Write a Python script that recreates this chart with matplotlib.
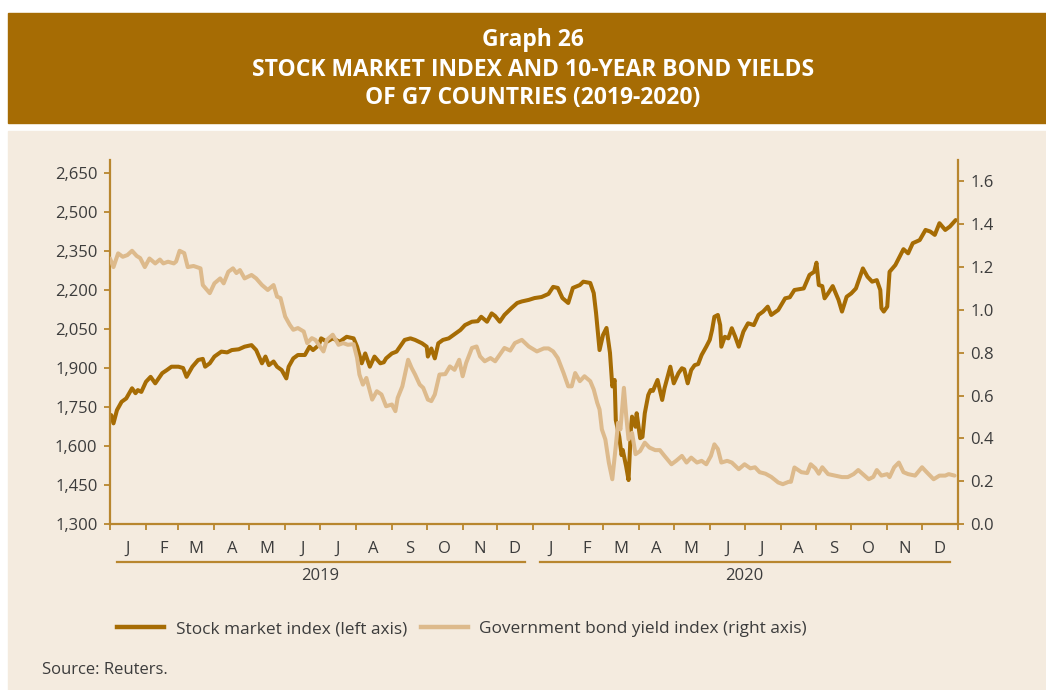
import matplotlib
matplotlib.use("Agg")
import matplotlib.pyplot as plt
import matplotlib.dates as mdates
import matplotlib.transforms as mtransforms
from matplotlib.patches import Rectangle
from matplotlib.lines import Line2D
import pandas as pd

plt.rcParams['font.family'] = ['Open Sans', 'DejaVu Sans']

# ---------------- data ----------------
stock_dates = [
    "2019-01-02", "2019-01-04", "2019-01-07", "2019-01-11", "2019-01-15", "2019-01-20",
    "2019-01-23", "2019-01-25", "2019-01-28", "2019-02-01", "2019-02-05", "2019-02-09",
    "2019-02-15", "2019-02-19", "2019-02-23", "2019-03-01", "2019-03-05", "2019-03-08",
    "2019-03-13", "2019-03-18", "2019-03-22", "2019-03-24", "2019-03-28", "2019-04-01",
    "2019-04-07", "2019-04-12", "2019-04-16", "2019-04-22", "2019-04-27", "2019-05-03",
    "2019-05-07", "2019-05-12", "2019-05-15", "2019-05-18", "2019-05-22", "2019-05-25",
    "2019-05-29", "2019-06-02", "2019-06-04", "2019-06-08", "2019-06-12", "2019-06-18",
    "2019-06-22", "2019-06-25", "2019-06-30", "2019-07-02", "2019-07-07", "2019-07-12",
    "2019-07-18", "2019-07-24", "2019-07-30", "2019-08-02", "2019-08-06", "2019-08-09",
    "2019-08-13", "2019-08-17", "2019-08-22", "2019-08-25", "2019-08-27", "2019-09-01",
    "2019-09-05", "2019-09-12", "2019-09-17", "2019-09-21", "2019-09-27", "2019-10-01",
    "2019-10-02", "2019-10-05", "2019-10-08", "2019-10-11", "2019-10-15", "2019-10-20",
    "2019-10-24", "2019-10-30", "2019-11-03", "2019-11-09", "2019-11-14", "2019-11-17",
    "2019-11-22", "2019-11-26", "2019-11-29", "2019-12-03", "2019-12-07", "2019-12-13",
    "2019-12-18", "2019-12-22", "2019-12-28",
    "2020-01-02", "2020-01-08", "2020-01-14", "2020-01-18", "2020-01-22", "2020-01-26",
    "2020-01-31", "2020-02-04", "2020-02-10", "2020-02-13", "2020-02-19", "2020-02-22",
    "2020-02-24", "2020-02-27", "2020-03-01", "2020-03-04", "2020-03-07", "2020-03-09",
    "2020-03-11", "2020-03-12", "2020-03-15", "2020-03-17", "2020-03-18", "2020-03-21",
    "2020-03-23", "2020-03-25", "2020-03-26", "2020-03-29", "2020-03-30", "2020-04-02",
    "2020-04-04", "2020-04-06", "2020-04-09", "2020-04-11", "2020-04-13", "2020-04-17",
    "2020-04-19", "2020-04-21", "2020-04-23", "2020-04-28", "2020-05-01", "2020-05-05",
    "2020-05-08", "2020-05-10", "2020-05-13", "2020-05-16", "2020-05-19", "2020-05-22",
    "2020-05-25", "2020-05-29", "2020-06-01", "2020-06-03", "2020-06-05", "2020-06-08",
    "2020-06-10", "2020-06-11", "2020-06-14", "2020-06-17", "2020-06-20", "2020-06-23",
    "2020-06-26", "2020-06-30", "2020-07-04", "2020-07-09", "2020-07-13", "2020-07-17",
    "2020-07-21", "2020-07-24", "2020-07-30", "2020-08-05", "2020-08-09", "2020-08-13",
    "2020-08-21", "2020-08-26", "2020-08-30", "2020-09-01", "2020-09-03", "2020-09-06",
    "2020-09-08", "2020-09-11", "2020-09-15", "2020-09-20", "2020-09-23", "2020-09-27",
    "2020-10-01", "2020-10-05", "2020-10-09", "2020-10-11", "2020-10-15", "2020-10-19",
    "2020-10-23", "2020-10-26", "2020-10-27", "2020-10-29", "2020-11-01", "2020-11-03",
    "2020-11-08", "2020-11-11", "2020-11-15", "2020-11-19", "2020-11-23", "2020-11-26",
    "2020-11-29", "2020-12-04", "2020-12-08", "2020-12-12", "2020-12-16", "2020-12-21",
    "2020-12-25", "2020-12-30",
]
stock_values = [
    1719, 1687, 1738, 1770, 1783, 1822,
    1803, 1815, 1808, 1847, 1866, 1841,
    1880, 1892, 1905, 1905, 1900, 1866,
    1905, 1931, 1935, 1905, 1918, 1944,
    1963, 1960, 1969, 1972, 1982, 1988,
    1969, 1918, 1944, 1911, 1925, 1905,
    1892, 1860, 1905, 1937, 1950, 1950,
    1982, 1969, 1988, 2014, 2001, 2014,
    2001, 2020, 2014, 1982, 1918, 1956,
    1905, 1944, 1918, 1922, 1937, 1956,
    1963, 2008, 2014, 2008, 1995, 1982,
    1944, 1975, 1937, 1995, 2008, 2014,
    2027, 2046, 2065, 2078, 2080, 2097,
    2078, 2110, 2100, 2078, 2104, 2130,
    2150, 2156, 2162,
    2169, 2173, 2185, 2212, 2208, 2169,
    2150, 2208, 2219, 2232, 2227, 2188,
    2111, 1969, 2027, 2054, 1958, 1829,
    1854, 1700, 1636, 1565, 1585, 1520,
    1469, 1662, 1713, 1674, 1726, 1630,
    1635, 1726, 1796, 1815, 1812, 1854,
    1815, 1777, 1822, 1905, 1841, 1880,
    1899, 1895, 1841, 1892, 1911, 1915,
    1950, 1982, 2008, 2046, 2097, 2104,
    2065, 1982, 2020, 2014, 2053, 2020,
    1982, 2040, 2072, 2065, 2104, 2117,
    2136, 2104, 2123, 2168, 2172, 2200,
    2206, 2258, 2270, 2305, 2219, 2215,
    2168, 2187, 2215, 2162, 2117, 2174,
    2187, 2206, 2258, 2283, 2251, 2232,
    2238, 2200, 2130, 2117, 2136, 2270,
    2296, 2322, 2357, 2341, 2380, 2386,
    2392, 2431, 2425, 2412, 2457, 2431,
    2444, 2469,
]

bond_dates = [
    "2019-01-01", "2019-01-04", "2019-01-08", "2019-01-12", "2019-01-16", "2019-01-20",
    "2019-01-24", "2019-01-27", "2019-01-31", "2019-02-04", "2019-02-09", "2019-02-13",
    "2019-02-16", "2019-02-20", "2019-02-25", "2019-02-27", "2019-03-02", "2019-03-06",
    "2019-03-09", "2019-03-14", "2019-03-20", "2019-03-22", "2019-03-28", "2019-04-01",
    "2019-04-06", "2019-04-09", "2019-04-13", "2019-04-17", "2019-04-20", "2019-04-23",
    "2019-04-27", "2019-05-03", "2019-05-07", "2019-05-12", "2019-05-17", "2019-05-22",
    "2019-05-25", "2019-05-28", "2019-06-01", "2019-06-05", "2019-06-08", "2019-06-12",
    "2019-06-17", "2019-06-20", "2019-06-24", "2019-06-27", "2019-07-04", "2019-07-07",
    "2019-07-12", "2019-07-17", "2019-07-21", "2019-07-25", "2019-07-30", "2019-08-02",
    "2019-08-04", "2019-08-07", "2019-08-10", "2019-08-15", "2019-08-19", "2019-08-23",
    "2019-08-27", "2019-09-01", "2019-09-04", "2019-09-06", "2019-09-10", "2019-09-15",
    "2019-09-18", "2019-09-21", "2019-09-25", "2019-09-28", "2019-10-02", "2019-10-05",
    "2019-10-08", "2019-10-12", "2019-10-17", "2019-10-21", "2019-10-25", "2019-10-29",
    "2019-11-01", "2019-11-04", "2019-11-09", "2019-11-13", "2019-11-16", "2019-11-20",
    "2019-11-25", "2019-11-29", "2019-12-03", "2019-12-07", "2019-12-12", "2019-12-16",
    "2019-12-22", "2019-12-28",
    "2020-01-04", "2020-01-10", "2020-01-14", "2020-01-18", "2020-01-22", "2020-01-27",
    "2020-01-31", "2020-02-03", "2020-02-06", "2020-02-10", "2020-02-14", "2020-02-19",
    "2020-02-22", "2020-02-25", "2020-02-27", "2020-02-29", "2020-03-03", "2020-03-06",
    "2020-03-09", "2020-03-12", "2020-03-14", "2020-03-16", "2020-03-19", "2020-03-21",
    "2020-03-23", "2020-03-26", "2020-03-29", "2020-04-02", "2020-04-06", "2020-04-10",
    "2020-04-15", "2020-04-19", "2020-04-23", "2020-04-29", "2020-05-03", "2020-05-08",
    "2020-05-12", "2020-05-16", "2020-05-21", "2020-05-25", "2020-05-29", "2020-06-02",
    "2020-06-05", "2020-06-08", "2020-06-11", "2020-06-16", "2020-06-20", "2020-06-26",
    "2020-07-01", "2020-07-06", "2020-07-10", "2020-07-14", "2020-07-19", "2020-07-24",
    "2020-07-30", "2020-08-03", "2020-08-08", "2020-08-10", "2020-08-13", "2020-08-19",
    "2020-08-24", "2020-08-27", "2020-08-31", "2020-09-03", "2020-09-06", "2020-09-11",
    "2020-09-17", "2020-09-23", "2020-09-28", "2020-10-03", "2020-10-07", "2020-10-11",
    "2020-10-16", "2020-10-20", "2020-10-23", "2020-10-27", "2020-11-01", "2020-11-03",
    "2020-11-07", "2020-11-11", "2020-11-15", "2020-11-19", "2020-11-25", "2020-12-01",
    "2020-12-05", "2020-12-11", "2020-12-16", "2020-12-21", "2020-12-24", "2020-12-29",
]
bond_values = [
    1.240, 1.200, 1.264, 1.248, 1.256, 1.276,
    1.252, 1.242, 1.200, 1.240, 1.217, 1.235,
    1.217, 1.225, 1.217, 1.226, 1.276, 1.265,
    1.200, 1.205, 1.194, 1.116, 1.078, 1.124,
    1.147, 1.124, 1.178, 1.194, 1.172, 1.186,
    1.147, 1.163, 1.147, 1.116, 1.093, 1.116,
    1.062, 1.055, 0.969, 0.930, 0.907, 0.915,
    0.899, 0.845, 0.868, 0.860, 0.806, 0.860,
    0.884, 0.837, 0.845, 0.837, 0.840, 0.775,
    0.698, 0.651, 0.682, 0.581, 0.620, 0.605,
    0.550, 0.558, 0.527, 0.589, 0.643, 0.767,
    0.729, 0.698, 0.651, 0.636, 0.581, 0.574,
    0.605, 0.698, 0.700, 0.736, 0.720, 0.767,
    0.690, 0.752, 0.822, 0.829, 0.783, 0.760,
    0.775, 0.760, 0.791, 0.822, 0.810, 0.845,
    0.860, 0.829,
    0.806, 0.820, 0.820, 0.806, 0.775, 0.705,
    0.643, 0.643, 0.705, 0.667, 0.690, 0.667,
    0.628, 0.566, 0.535, 0.442, 0.395, 0.287,
    0.209, 0.364, 0.473, 0.442, 0.636, 0.504,
    0.395, 0.426, 0.326, 0.341, 0.380, 0.357,
    0.345, 0.345, 0.318, 0.279, 0.295, 0.318,
    0.287, 0.310, 0.287, 0.295, 0.279, 0.318,
    0.372, 0.350, 0.287, 0.295, 0.287, 0.256,
    0.279, 0.260, 0.265, 0.242, 0.235, 0.220,
    0.194, 0.186, 0.197, 0.197, 0.264, 0.242,
    0.238, 0.279, 0.260, 0.235, 0.265, 0.233,
    0.226, 0.219, 0.219, 0.233, 0.252, 0.233,
    0.209, 0.220, 0.252, 0.226, 0.233, 0.219,
    0.265, 0.287, 0.242, 0.233, 0.226, 0.265,
    0.242, 0.209, 0.226, 0.226, 0.233, 0.226,
]

left_ticks = [1300, 1450, 1600, 1750, 1900, 2050, 2200, 2350, 2500, 2650]
right_ticks = [0.0, 0.2, 0.4, 0.6, 0.8, 1.0, 1.2, 1.4, 1.6]
month_labels = ["J", "F", "M", "A", "M", "J", "J", "A", "S", "O", "N", "D"]
years = [2019, 2020]
title_lines = ["Graph 26",
               "STOCK MARKET INDEX AND 10-YEAR BOND YIELDS",
               "OF G7 COUNTRIES (2019-2020)"]
legend_labels = ["Stock market index (left axis)",
                 "Government bond yield index (right axis)"]
source_text = "Source: Reuters."

# ---------------- style ----------------
BANNER = "#A66C04"
PANEL = "#F4EBDF"
GOLD = "#B8862E"
STOCK = "#A66C04"
BOND = "#DDBA8C"
TEXT = "#3C3C3C"
W, H = 1046, 690

fig = plt.figure(figsize=(W / 100, H / 100), dpi=100)
fig.patch.set_facecolor("white")
fig.patches.append(Rectangle((8 / W, 1 - 123 / H), 1 - 8 / W, 110 / H,
                             transform=fig.transFigure, color=BANNER, zorder=-10))
fig.patches.append(Rectangle((8 / W, 0), 1 - 8 / W, 1 - 131 / H,
                             transform=fig.transFigure, color=PANEL, zorder=-10))

ax = fig.add_axes([110 / W, 1 - 524 / H, 848 / W, 364 / H])
ax.set_facecolor("none")
ax2 = ax.twinx()
ax2.set_facecolor("none")

sd = pd.to_datetime(stock_dates)
bd = pd.to_datetime(bond_dates)
ax.plot(sd, stock_values, color=STOCK, lw=2.9, solid_joinstyle="round",
        solid_capstyle="round")
ax2.plot(bd, bond_values, color=BOND, lw=2.9, solid_joinstyle="round",
         solid_capstyle="round")

x0 = pd.Timestamp(f"{years[0]}-01-01")
x1 = pd.Timestamp(f"{years[-1] + 1}-01-01")
ax.set_xlim(x0, x1)
ax.set_ylim(1300, 2700)
ax2.set_ylim(0, 1.7)

for s in ["top", "right"]:
    ax.spines[s].set_visible(False)
for s in ["top", "left", "bottom"]:
    ax2.spines[s].set_visible(False)
for sp in [ax.spines["left"], ax.spines["bottom"], ax2.spines["right"]]:
    sp.set_color(GOLD)
    sp.set_linewidth(1.6)

ax.set_yticks(left_ticks)
ax.set_yticklabels([f"{v:,}" for v in left_ticks])
ax2.set_yticks(right_ticks)
ax2.set_yticklabels([f"{v:.1f}" for v in right_ticks])
ax.tick_params(axis="y", direction="out", length=4, width=1.3, color=GOLD,
               labelsize=12, labelcolor=TEXT, pad=5)
ax2.tick_params(axis="y", direction="out", length=4, width=1.3, color=GOLD,
                labelsize=12, labelcolor=TEXT, pad=5)

month_starts = pd.date_range(x0, x1, freq="MS")
mid_months = month_starts[:-1] + pd.Timedelta(days=15)
ax.set_xticks(month_starts)
ax.set_xticklabels([""] * len(month_starts))
ax.set_xticks(mid_months, minor=True)
ax.set_xticklabels(month_labels * len(years), minor=True)
ax.tick_params(axis="x", which="major", direction="out", length=4, width=1.3,
               color=GOLD)
ax.tick_params(axis="x", which="minor", length=0, labelsize=12,
               labelcolor=TEXT, pad=12)

trans = mtransforms.blended_transform_factory(ax.transData, ax.transAxes)
for yr in years:
    a = mdates.date2num(pd.Timestamp(f"{yr}-01-07"))
    b = mdates.date2num(pd.Timestamp(f"{yr}-12-25"))
    ax.add_line(Line2D([a, b], [-0.104, -0.104], transform=trans, color=GOLD,
                       lw=1.6, clip_on=False))
    ax.text(mdates.date2num(pd.Timestamp(f"{yr}-07-01")), -0.142, str(yr),
            transform=trans, ha="center", va="center", fontsize=12, color=TEXT)

handles = [Line2D([], [], color=STOCK, lw=3.2), Line2D([], [], color=BOND, lw=3.2)]
fig.legend(handles, legend_labels, loc="center left",
           bbox_to_anchor=(117 / W, 1 - 629 / H), ncol=2, frameon=False,
           fontsize=12.4, labelcolor=TEXT, handlelength=2.75, handletextpad=0.65,
           columnspacing=0.8, borderpad=0, borderaxespad=0)

fig.text(42 / W, 1 - 670 / H, source_text, ha="left", va="center",
         fontsize=12, color=TEXT)

for txt, yy in zip(title_lines, [40, 70, 98]):
    fig.text(533 / W, 1 - yy / H, txt, ha="center", va="center", color="white",
             fontsize=16.5, fontweight="bold")

fig.savefig("out.png", dpi=100, facecolor=fig.get_facecolor())
